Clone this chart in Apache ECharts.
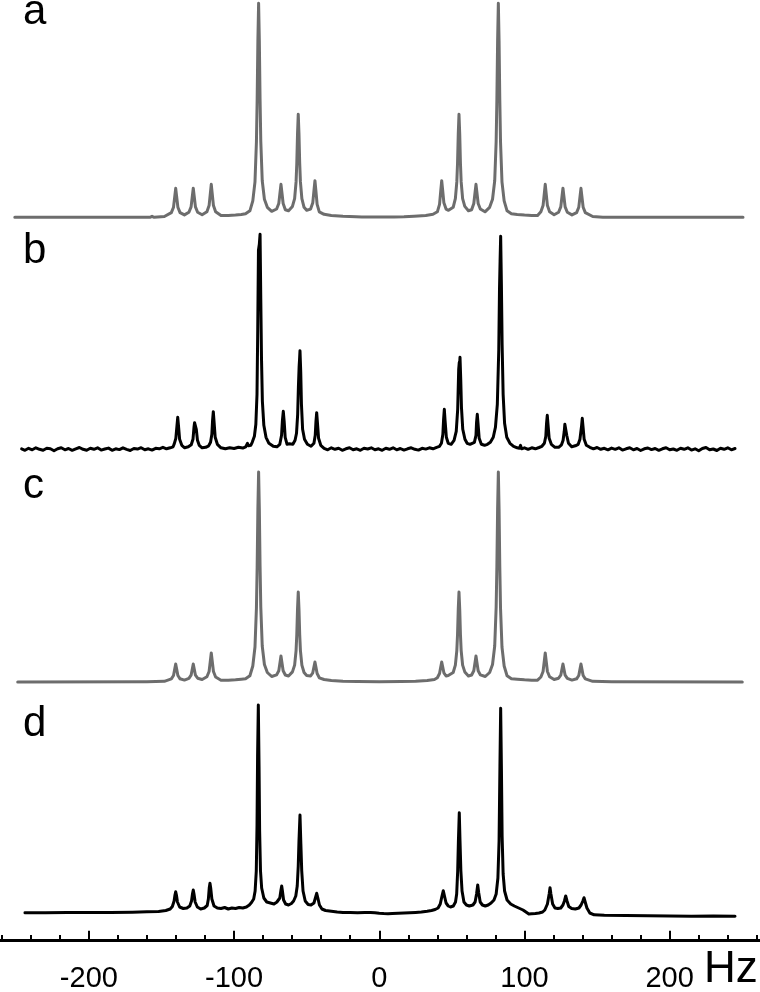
<!DOCTYPE html>
<html>
<head>
<meta charset="utf-8">
<script src="https://cdn.jsdelivr.net/npm/echarts@6/dist/echarts.min.js"></script>
<style>
html,body{margin:0;padding:0;background:#fff;}
#chart{width:760px;height:992px;}
</style>
</head>
<body>
<div id="chart"></div>
<script>
// ---- data (frequency in Hz, intensity in arbitrary units above each trace's baseline) ----
const traceLabels = ['a', 'b', 'c', 'd'];
const tickLabels = [-200, -100, 0, 100, 200];
const minorTicks = [-260, -240, -220, -180, -160, -140, -120, -80, -60, -40, -20, 20, 40, 60, 80, 120, 140, 160, 180, 220, 240, 260];
const unitLabel = 'Hz';

const traceA = [
[-251,0],[-158,0],[-156.5,1],[-155,0],[-148,0.8],
[-143.2,4.7],[-141.7,10.1],[-140.8,21.4],[-140.2,29],[-139.6,21.4],[-138.7,10.1],[-137.2,4.7],
[-134.2,2.4],
[-131.1,5.1],[-129.6,10.4],[-128.7,21.6],[-128.1,29],[-127.5,21.6],[-126.6,10.4],[-125.1,5.1],
[-122,2.6],
[-118.7,5.6],[-117.2,11.7],[-116.3,24.5],[-115.7,33],[-115.1,24.5],[-114.2,11.7],[-112.7,5.6],
[-109,1.8],[-104,1.8],[-99,2.2],[-95,2.8],
[-92.1,3.5],[-89.1,6.5],[-87.1,16.5],[-85.6,35.5],[-84.6,75.5],[-84.1,117.5],[-83.6,176.5],[-83.1,214],[-82.6,176.5],[-82.1,118],[-81.6,76],[-80.6,36.5],[-79.1,18],[-77.1,10],[-74.1,6],
[-70.7,8.3],[-69.2,13.8],[-68.3,25.3],[-67.7,33],[-67.1,25.3],[-66.2,13.8],[-64.7,7.5],
[-62.5,6.5],
[-59.8,10.9],[-58.3,18.7],[-57.3,35.4],[-56.8,54],[-56.3,83.4],[-55.8,103],[-55.3,83.4],[-54.8,54],[-54.3,35.4],[-53.3,18.7],[-51.8,10],
[-50,7],
[-47.3,8.2],[-45.8,14.5],[-44.9,27.8],[-44.3,36.6],[-43.7,27.5],[-42.8,13],[-41.3,5.5],
[-38,3],[-33,1.8],[-25,1],[-16,0.5],[-12,0.3],[-11,1.2],[-10,0.3],[0,0.2],[8.5,0.3],[9.4,1.2],[10.3,0.3],[17,0.5],[24,1],[32,1.8],[37,3],
[40,5.5],[41.5,13],[42.4,27.5],[43,36.6],[43.6,27.8],[44.5,14.5],[46,8.2],
[47.7,7],
[50.9,10],[52.4,18.7],[53.4,35.4],[53.9,54],[54.4,83.4],[54.9,103],[55.4,83.4],[55.9,54],[56.4,35.4],[57.4,18.7],[58.9,10.9],
[61.4,6.5],
[63.6,7.5],[65.1,13.8],[66,25.3],[66.6,33],[67.2,25.3],[68.1,13.8],[69.6,8.3],
[72.8,5.5],[76,10],[78,18],[79.5,36.5],[80.5,76],[81,118],[81.5,176.5],[82,214],[82.5,176.5],[83,117.5],[83.5,75.5],[84.5,35.5],[86,16.5],[88,6.5],[91,3.5],
[95,2.8],[100,2.2],[105,1.8],[109,1.8],
[111.3,5.6],[112.8,11.7],[113.7,24.5],[114.3,33],[114.9,24.5],[115.8,11.7],[117.3,5.6],
[120.4,2.6],
[123.5,5.1],[125,10.4],[125.9,21.6],[126.5,29],[127.1,21.6],[128,10.4],[129.5,5.1],
[132.7,2.4],
[135.9,4.7],[137.4,10.1],[138.3,21.4],[138.9,29],[139.5,21.4],[140.4,10.1],[141.9,4.7],
[147,0.8],[154,0],[155,1],[156.5,0],[250.5,0]
];

const traceB = [
[-246.3,0.5],[-244,-1],[-241.5,1],[-239,-0.5],[-236.5,1.5],[-234,0],[-231.5,-1],[-229,1],[-226.5,0.5],[-224,-1.5],[-221.5,0.5],[-219,1.5],[-216.5,-0.5],[-214,0.8],[-211.5,-1],[-209,0.5],[-206.5,1.8],[-204,0],[-201.5,-1],[-199,1],[-196.5,0],[-194,1.5],[-191.5,-0.8],[-189,0.3],[-186.5,1.2],[-184,-1],[-181.5,0.5],[-179,-0.3],[-176.5,1.5],[-174,0],[-171.5,-1.2],[-169,0.8],[-166.5,0.2],[-164,1.6],[-161.5,-0.5],[-159,0.5],[-156.5,-0.8],[-154,1],[-151.5,0.5],[-149,2],[-146.5,0.5],[-144,1.5],[-142,2.5],
[-141.3,5],[-140.1,11],[-139.3,24],[-138.8,32],[-138.3,24],[-137.5,10],[-136,4],
[-134,1.5],[-131.5,2.5],[-129.5,4.5],
[-128.3,10],[-127.6,22],[-127.2,26.6],[-126.6,25.5],[-126,20],[-125.2,9],[-124,4],
[-122,1.5],[-119.5,2],[-117.5,3.5],
[-116.2,7],[-115.3,15],[-114.8,29],[-114.3,37.6],[-113.8,28],[-113,12],[-111.5,5],
[-109,1.5],[-106,0.5],[-103,1.5],[-100,0.8],[-97,2],[-94,1.2],[-92,2.5],[-90.8,6],[-90,3.5],[-88.5,4],
[-87.5,7],[-86,13],[-85,25],[-84.2,55],[-83.7,120],[-83.2,199],[-82.6,205],[-82.1,215],[-81.6,150],[-81.1,90],[-80.5,48],[-79.5,24],[-78,12],[-76,6],[-73,3],[-70.5,2.5],[-68.5,5],
[-67.3,14],[-66.7,29],[-66.1,38],[-65.5,28],[-64.8,12],[-63.5,5],[-62.5,4],[-62,5.5],[-61.3,4],[-59.5,5],
[-58,9],[-57,16],[-56.2,35],[-55.7,62],[-55.2,82.6],[-54.9,90],[-54.6,98.6],[-54.1,78],[-53.6,45],[-52.8,20],[-51.5,10],[-49.5,5],[-47,3],
[-45,6],[-44.1,14],[-43.6,28],[-43.1,36.6],[-42.6,27],[-41.8,11],[-40.3,4],
[-38,1],[-35.5,-0.5],[-33,1.5],[-30.5,0],[-28,1],[-25.5,-1],[-23,0.5],[-20.5,1.5],[-18,-0.5],[-15.5,0.5],[-13,-1],[-10.5,1],[-8,0.3],[-5.5,1.5],[-3,-0.5],[-0.5,0.5],[2,-1],[4.5,1],[7,0],[9.5,1.5],[12,-0.5],[14.5,0.8],[17,-0.8],[19.5,0.5],[22,1.5],[24.5,0],[27,-0.8],[29.5,1],[32,0.2],[34.5,1.5],[37,0.5],[39.5,2],[41.5,3],
[42.8,6],[43.8,15],[44.3,30],[44.8,40],[45.3,29],[46.2,12],[47.5,6],
[49.5,5],[51.5,9],[53,18],[54,40],[54.7,80],[55.1,87],[55.3,84],[55.6,92],[56.1,70],[56.6,42],[57.5,20],[59,10],[60.5,6],[62.5,5],
[65.5,7],[66.6,14],[67,27],[67.5,35],[68,26],[68.8,11],[70.3,5],
[72.5,4],[74.5,5],
[76.5,7],[78.5,12],[80,22],[81.3,45],[82.3,100],[82.8,160],[83.2,188],[83.6,213],[84.1,165],[84.6,105],[85.3,55],[86.3,26],[87.8,12],[90,6],[92.5,3],[95,1.5],[96.5,1],[97.3,4],[98,0.5],[100,1.5],[102.5,0],[105,1.5],[107.5,0.5],[110,1.8],[112,3],
[113.7,6],[114.7,13],[115.2,26],[115.7,34],[116.2,25],[117,11],[118.5,5],
[121,2],[123.5,2],[125.5,4.5],
[126.6,9],[127.4,18],[127.8,25],[128.1,27],[128.5,24],[129.1,14],[130.3,6],
[132.5,2.5],[135,3.5],[137,5],
[138.2,10],[139.3,23],[139.8,31],[140.3,23],[141.1,10],[142.6,4],
[145,2],[147.5,0.5],[150,1.8],[152.5,0],[155,1],[157.5,-0.5],[160,1.2],[162.5,0],[165,1.5],[167.5,-0.8],[170,0.5],[172.5,1.5],[175,-0.5],[177.5,0.8],[180,-1.2],[182.5,0.5],[185,1.3],[187.5,-0.3],[190,0.8],[192.5,-1],[195,0.5],[197.5,1.6],[200,-0.5],[202.5,0.3],[205,-1],[207.5,1],[210,0],[212.5,1.5],[215,-0.8],[217.5,0.5],[220,-1.5],[222.5,0.8],[225,1.8],[227.5,-0.5],[230,0.3],[232.5,-1.2],[235,1],[237.5,0],[240,1.5],[242.5,-0.5],[245,0.8]
];

const traceC = [
[-249,0],[-160,0.3],[-148,0.7],
[-143.2,3.2],[-141.7,6.5],[-140.8,13.4],[-140.2,18],[-139.6,13.4],[-138.7,6.5],[-137.2,3.2],
[-134.2,1.9],
[-131.1,3.6],[-129.6,6.8],[-128.7,13.5],[-128.1,18],[-127.5,13.5],[-126.6,6.8],[-125.1,3.8],
[-122,2.5],
[-118.7,5.2],[-117.2,10.5],[-116.3,21.6],[-115.7,29],[-115.1,21.6],[-114.2,10.5],[-112.7,5],
[-109,1.8],[-104,1.8],[-99,2.2],[-95,2.8],
[-92.1,3.3],[-89.1,6.3],[-87.1,16],[-85.6,35],[-84.6,74],[-84.1,115],[-83.6,173],[-83.1,210],[-82.6,173],[-82.1,116],[-81.6,75],[-80.6,36],[-79.1,17.5],[-77.1,9.5],[-74.1,5.5],
[-70.7,7.1],[-69.2,11.3],[-68.3,20.1],[-67.7,26],[-67.1,20.1],[-66.2,11.3],[-64.7,7],
[-62.5,6],
[-59.8,10.1],[-58.3,16.9],[-57.3,31.4],[-56.8,47.5],[-56.3,73],[-55.8,90],[-55.3,73],[-54.8,47.5],[-54.3,31.4],[-53.3,16.9],[-51.8,9.5],
[-50,6.5],
[-47.3,6],[-45.8,9.2],[-44.9,15.7],[-44.3,20],[-43.7,15.5],[-42.8,8.5],[-41.3,4.2],
[-38,2.5],[-33,1.5],[-25,0.8],[-15,0.4],[0,0.2],[15,0.4],[25,0.8],[33,1.5],[38,2.5],
[40,4.2],[41.5,8.5],[42.4,15.5],[43,20],[43.6,15.7],[44.5,9.2],[46,6],
[47.5,6.5],
[50.9,9.5],[52.4,16.9],[53.4,31.4],[53.9,47.5],[54.4,73],[54.9,90],[55.4,73],[55.9,47.5],[56.4,31.4],[57.4,16.9],[58.9,10.1],
[61.4,6],
[63.6,7],[65.1,11.3],[66,20.1],[66.6,26],[67.2,20.1],[68.1,11.3],[69.6,7.1],
[73,5.5],[76,9.5],[78,17.5],[79.5,36],[80.5,75],[81,116],[81.5,173],[82,210],[82.5,173],[83,115],[83.5,74],[84.5,35],[86,16],[88,6.3],[91,3.3],
[95,2.8],[100,2.2],[105,1.8],[109,1.8],
[111.3,5],[112.8,10.5],[113.7,21.6],[114.3,29],[114.9,21.6],[115.8,10.5],[117.3,5.2],
[120.4,2.5],
[123.5,3.8],[125,6.8],[125.9,13.5],[126.5,18],[127.1,13.5],[128,6.8],[129.5,3.6],
[132.7,1.9],
[135.9,3.2],[137.4,6.5],[138.3,13.4],[138.9,18],[139.5,13.4],[140.4,6.5],[141.9,3.2],
[147,0.7],[160,0.3],[250,0]
];

const traceD = [
[-244,3.3],[-230,3.2],[-215,3.5],[-200,3.4],[-185,3.6],[-170,3.8],[-160,4.2],[-152,4.5],[-147,5.5],[-144,7],
[-142.5,9.5],[-141.3,15],[-140.7,21],[-140.2,24.3],[-139.7,21],[-139,14],[-137.5,9],
[-135,7.5],[-132.5,8],[-130.5,10],
[-129.3,15],[-128.6,22.5],[-128.1,26],[-127.6,22],[-126.8,14],[-125.3,9],
[-123,7],[-120.5,8],[-118.5,10.5],
[-117.7,17],[-117.1,28],[-116.6,32.7],[-116.1,28],[-115.3,17],[-113.8,10],
[-111.5,8],[-109,7.5],[-106.5,8.5],[-104,7],[-101.5,8],[-99,7.5],[-96.5,8.5],[-94,8],[-91.5,9],[-89.5,11],
[-88,13.5],[-86.5,17],[-85.5,25],[-84.7,45],[-84.2,90],[-83.8,160],[-83.3,211],[-82.8,150],[-82.4,85],[-81.8,45],[-81,28],[-79.5,18],[-77.5,14],[-75,13],[-72.5,12],[-70.5,14],
[-68.5,18],[-67.7,26],[-67.2,30],[-66.7,25],[-65.9,16],[-64.5,12],
[-62.5,11],[-60.5,12.5],[-59,15],
[-57.5,20],[-56.5,30],[-55.8,50],[-55.3,75],[-54.6,101],[-54,72],[-53.4,45],[-52.5,25],[-51,15],[-49,11.5],[-47,11],
[-45,13],[-44,18],[-43.1,22.7],[-42.3,18],[-41.2,11],[-39.5,7],
[-37,5.5],[-33,4.8],[-29,4],[-25,3.6],[-20,3.4],[-15,3.2],[-10,3.4],[-6,3.6],[-3,3.3],[0,2.8],[3,2.4],[6,2.2],[9,2.4],[13,2.7],[17,3],[21,3.3],[25,3.6],[29,4],[33,4.8],[36,5.5],[38.5,6.5],[40.5,8],
[42,12],[43.2,20],[44.1,25.3],[44.9,20],[46,13],[47.5,10],
[49,9],[51,10],[52.5,14],
[53.3,22],[54,45],[54.5,75],[55.1,103.3],[55.6,75],[56.2,45],[57,25],[58.3,14],[60,11],[62,10],
[64.5,11],[66,14],[67,22],[67.8,31],[68.5,23],[69.5,14],[71,11],
[73,10],[75,11],[77,13],
[79,16],[80.5,22],[81.7,38],[82.5,75],[83.1,150],[83.6,207.7],[84.1,150],[84.6,80],[85.3,42],[86.3,25],[88,16],[90.5,12],[93,10],[96,8],[99,6],[101.5,3.5],[103,2],[105,2.2],[107.5,2.5],[110,3],[112.5,4],[114,6],
[115.8,12],[117,22],[117.6,28.3],[118.2,22],[119.4,12],[121,8],
[123,7.5],[125,8],[126.5,11],
[127.5,15],[128.4,20],[129.3,15],[130.5,9.5],
[132.5,7.5],[135,7],[137.5,8],[139,11],
[140.2,15],[141,18.3],[141.8,14],[143,8],[145,3],[148,1.2],[155,0.8],[170,0.5],[185,0.3],[200,0],[215,-0.2],[230,0],[245,-0.3]
];

// ---- layout / style ----
const X_MIN = -261.2, X_MAX = 262.2;
const GRAY = '#6d6d6d', BLACK = '#000000';
const FONT = '"Liberation Sans", Arial, Helvetica, sans-serif';

const panels = [
  {data: traceA, color: GRAY,  baseY: 217.3, vMin: -3, vMax: 216, labelY: 12},
  {data: traceB, color: BLACK, baseY: 449.3, vMin: -4, vMax: 218, labelY: 251},
  {data: traceC, color: GRAY,  baseY: 682,   vMin: -3, vMax: 212, labelY: 486},
  {data: traceD, color: BLACK, baseY: 916,   vMin: -3, vMax: 212, labelY: 724}
];

const grids = [], xAxes = [], yAxes = [], series = [], graphics = [];
panels.forEach((p, i) => {
  grids.push({left: 0, right: 0, top: p.baseY - p.vMax, height: p.vMax - p.vMin});
  xAxes.push({type: 'value', gridIndex: i, min: X_MIN, max: X_MAX, show: false});
  yAxes.push({type: 'value', gridIndex: i, min: p.vMin, max: p.vMax, show: false});
  series.push({
    type: 'line', xAxisIndex: i, yAxisIndex: i, data: p.data,
    symbol: 'none', showSymbol: false, smooth: false, clip: false, silent: true,
    lineStyle: {color: p.color, width: 3, join: 'round', cap: 'round'}
  });
  graphics.push({
    type: 'text', left: 23, top: p.labelY - 21, silent: true,
    style: {text: traceLabels[i], font: '42px ' + FONT, fill: '#000', verticalAlign: 'top'}
  });
});

const AXIS_Y = 940.5;
grids.push({left: 0, right: 0, top: AXIS_Y - 1, height: 1});
grids.push({left: 0, right: 0, top: AXIS_Y - 1, height: 1});
xAxes.push({
  type: 'value', gridIndex: 4, min: X_MIN, max: X_MAX, position: 'bottom',
  splitLine: {show: false},
  axisLine: {show: true, onZero: false, lineStyle: {color: '#000', width: 3}},
  axisTick: {show: true, inside: true, length: 9, customValues: tickLabels, lineStyle: {color: '#000', width: 2}},
  axisLabel: {show: true, customValues: tickLabels, margin: 25, color: '#000', fontSize: 29, fontFamily: FONT}
});
xAxes.push({
  type: 'value', gridIndex: 5, min: X_MIN, max: X_MAX, position: 'bottom',
  splitLine: {show: false},
  axisLine: {show: false, onZero: false},
  axisTick: {show: true, inside: true, length: 5.5, customValues: minorTicks, lineStyle: {color: '#000', width: 2}},
  axisLabel: {show: false}
});
yAxes.push({type: 'value', gridIndex: 4, min: 0, max: 1, show: false});
yAxes.push({type: 'value', gridIndex: 5, min: 0, max: 1, show: false});

graphics.push({
  type: 'text', left: 704, top: 973 - 25, silent: true,
  style: {text: unitLabel, font: '44px ' + FONT, fill: '#000', verticalAlign: 'top'}
});

const chart = echarts.init(document.getElementById('chart'), null, {renderer: 'canvas'});
chart.setOption({
  animation: false,
  backgroundColor: '#ffffff',
  grid: grids,
  xAxis: xAxes,
  yAxis: yAxes,
  series: series,
  graphic: graphics
});
</script>
</body>
</html>
